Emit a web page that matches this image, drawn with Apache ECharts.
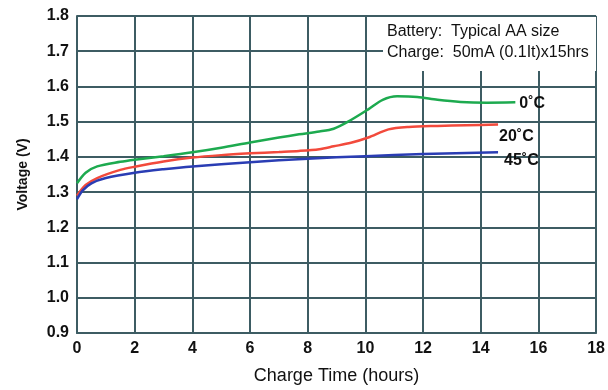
<!DOCTYPE html>
<html>
<head>
<meta charset="utf-8">
<script src="https://cdn.jsdelivr.net/npm/echarts@6/dist/echarts.min.js"></script>
<style>
  html, body { margin: 0; padding: 0; background: #fff; }
  #chart { width: 608px; height: 390px; }
</style>
</head>
<body>
<div id="chart"></div>
<script>
// Charge time (hours) and cell voltage (V) for each ambient temperature
var time0C  = [0, 0.3, 0.7, 1.5, 2, 3, 4, 5, 6, 7, 7.7, 8.4, 8.9, 9.4, 10.1, 10.6, 11.1, 11.8, 12.5, 13.3, 14.2, 15.2];
var volt0C  = [1.325, 1.355, 1.373, 1.386, 1.392, 1.402, 1.413, 1.426, 1.441, 1.455, 1.464, 1.472, 1.480, 1.500, 1.535, 1.562, 1.572, 1.570, 1.562, 1.556, 1.554, 1.555];

var time20C = [0, 0.3, 0.7, 1.5, 2, 3, 4, 5, 6, 7, 7.7, 8.4, 8.9, 9.5, 10.1, 10.8, 11.5, 12.5, 13.5, 14.6];
var volt20C = [1.290, 1.320, 1.340, 1.363, 1.372, 1.387, 1.398, 1.405, 1.410, 1.414, 1.417, 1.422, 1.430, 1.440, 1.455, 1.478, 1.485, 1.488, 1.490, 1.492];

var time45C = [0, 0.2, 0.5, 1, 2, 3, 4, 6, 8, 10, 12, 14.6];
var volt45C = [1.280, 1.305, 1.325, 1.340, 1.355, 1.365, 1.373, 1.385, 1.395, 1.402, 1.408, 1.413];

var seriesNames = ['0\u02daC', '20\u02daC', '45\u02daC'];
var noteLines = ['Battery:  Typical AA size', 'Charge:  50mA (0.1It)x15hrs'];

function pairs(xs, ys) {
  return xs.map(function (x, i) { return [x, ys[i]]; });
}

var gridColor = '#3d5c63';
var font = '"Liberation Sans", Arial, sans-serif';

var chart = echarts.init(document.getElementById('chart'), null, { renderer: 'canvas' });

function curve(name, data, color, offset) {
  return {
    name: name,
    type: 'line',
    data: data,
    smooth: 0.3,
    showSymbol: false,
    lineStyle: { color: color, width: 2.5 },
    z: 3,
    endLabel: {
      show: true,
      formatter: name,
      color: '#111',
      fontFamily: font,
      fontSize: 16,
      fontWeight: 'bold',
      offset: offset
    }
  };
}

chart.setOption({
  animation: false,
  backgroundColor: '#fff',
  grid: { left: 77, right: 11, top: 16, bottom: 55 },
  xAxis: {
    type: 'value',
    min: 0, max: 18, interval: 2,
    name: 'Charge Time (hours)',
    nameLocation: 'middle',
    nameGap: 34,
    nameTextStyle: { color: '#111', fontFamily: font, fontSize: 18 },
    axisLine: { show: true, lineStyle: { color: gridColor, width: 2 } },
    axisTick: { show: false },
    axisLabel: { color: '#111', fontFamily: font, fontSize: 16, fontWeight: 'bold', margin: 8 },
    splitLine: { show: true, lineStyle: { color: gridColor, width: 2 } }
  },
  yAxis: {
    type: 'value',
    min: 0.9, max: 1.8, interval: 0.1,
    name: 'Voltage (V)',
    nameLocation: 'middle',
    nameGap: 47,
    nameTextStyle: { color: '#111', fontFamily: font, fontSize: 14, fontWeight: 'bold' },
    axisLine: { show: true, lineStyle: { color: gridColor, width: 2 } },
    axisTick: { show: false },
    axisLabel: {
      color: '#111', fontFamily: font, fontSize: 16, fontWeight: 'bold', margin: 8,
      formatter: function (v) { return v.toFixed(1); }
    },
    splitLine: { show: true, lineStyle: { color: gridColor, width: 2 } }
  },
  graphic: [
    {
      type: 'rect',
      shape: { x: 383, y: 17, width: 213, height: 54 },
      style: { fill: '#fff' },
      z: 10
    },
    {
      type: 'text',
      x: 387, y: 32,
      style: { text: noteLines[0], fill: '#111', font: '16px ' + font, verticalAlign: 'middle' },
      z: 11
    },
    {
      type: 'text',
      x: 387, y: 53,
      style: { text: noteLines[1], fill: '#111', font: '16px ' + font, verticalAlign: 'middle' },
      z: 11
    }
  ],
  series: [
    curve(seriesNames[0], pairs(time0C, volt0C), '#1daa4f', [-4, 1]),
    curve(seriesNames[1], pairs(time20C, volt20C), '#f24a3c', [-7, 12]),
    curve(seriesNames[2], pairs(time45C, volt45C), '#2a3db4', [-2, 8])
  ]
});
</script>
</body>
</html>
